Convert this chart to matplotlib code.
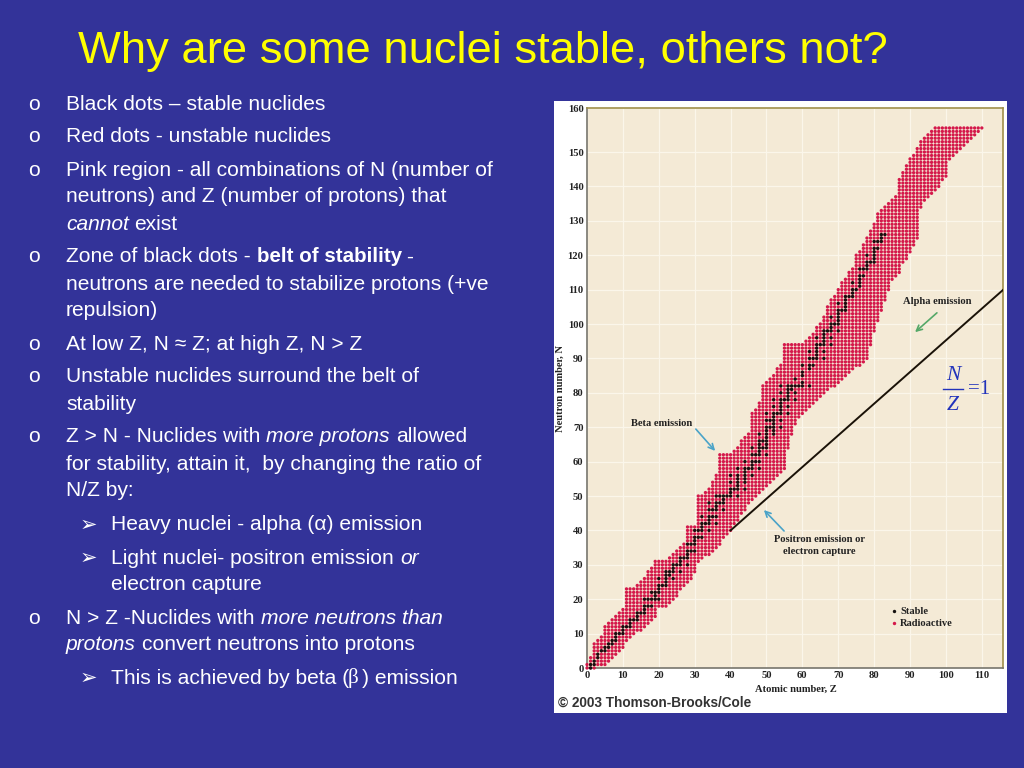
import numpy as np
import matplotlib
matplotlib.use("Agg")
import matplotlib.pyplot as plt
from matplotlib.patches import Rectangle

BG = '#333399'

# radioactive band: for every Z, lowest and highest N
band_low = [0,0,0,1,1,1,2,3,4,5,
            6,8,9,10,11,11,12,13,14,15,
            18,18,18,19,20,21,23,24,25,26,
            28,31,32,33,33,34,35,36,38,39,
            40,42,43,45,46,48,49,50,51,52,
            53,54,55,56,57,58,64,68,71,73,
            74,75,76,77,78,79,80,81,82,82,
            83,84,85,86,87,88,88,89,90,94,
            98,101,104,107,110,113,114,115,118,119,
            121,123,125,134,136,137,138,139,140,142,
            143,148,149,150,151,152,153,154,155,156,
            157]
band_high = [1,3,7,8,9,12,13,14,15,16,
             17,23,23,23,24,25,26,28,29,31,
             31,31,31,32,33,34,35,36,41,41,
             41,50,50,51,52,54,56,62,62,62,
             62,63,64,66,67,68,74,75,77,82,
             83,84,85,87,88,94,94,94,94,94,
             94,95,96,97,99,100,102,105,107,108,
             110,112,113,115,116,120,121,123,125,127,
             129,132,133,134,135,136,137,142,144,146,
             148,149,151,153,154,155,156,157,157,157,
             157,157,157,157,157,157,157,157,157,157,
             157]

# stable nuclides, N values by Z
stable = {1:[0,1], 2:[1,2], 3:[3,4], 4:[5], 5:[5,6], 6:[6,7], 7:[7,8], 8:[8,9,10], 9:[10],
          10:[10,11,12], 11:[12], 12:[12,13,14], 13:[14], 14:[14,15,16], 15:[16],
          16:[16,17,18,20], 17:[18,20], 18:[18,20,22], 19:[20,21,22], 20:[20,22,23,24,26],
          21:[24], 22:[24,25,26,27,28], 23:[27,28], 24:[26,28,29,30], 25:[30],
          26:[28,30,31,32], 27:[32], 28:[30,32,33,34,36], 29:[34,36], 30:[34,36,37,38,40],
          31:[38,40], 32:[38,40,41,42,44], 33:[42], 34:[40,42,43,44,46,48], 35:[44,46],
          36:[42,44,46,47,48,50], 37:[48,50], 38:[46,48,49,50], 39:[50],
          40:[50,51,52,54,56], 41:[52], 42:[50,52,53,54,55,56,58],
          44:[52,54,55,56,57,58,60], 45:[58], 46:[56,58,59,60,62,64], 47:[60,62],
          48:[58,60,62,63,64,65,66,68], 49:[64,66], 50:[62,64,65,66,67,68,69,70,72,74],
          51:[70,72], 52:[68,69,70,71,72,73,74,76,78], 53:[74],
          54:[70,72,74,75,76,77,78,80,82], 55:[78], 56:[74,76,78,79,80,81,82], 57:[81,82],
          58:[78,80,82,84], 59:[82], 60:[82,83,85,86,88], 62:[82,87,88,90,92], 63:[88,90],
          64:[90,91,92,93,94,96], 65:[94], 66:[90,92,94,95,96,97,98], 67:[98],
          68:[94,96,98,99,100,102], 69:[100], 70:[98,100,101,102,103,104,106], 71:[104],
          72:[104,105,106,107,108], 73:[108], 74:[108,109,110,112], 75:[110],
          76:[111,112,113,114,116], 77:[114,116], 78:[116,117,118,120], 79:[118],
          80:[118,119,120,121,122,124], 81:[122,124], 82:[124,125,126], 83:[126]}

line_z = [40, 116]
line_n = [40, 110]
xtick_vals = [0,10,20,30,40,50,60,70,80,90,100,110]
ytick_vals = [0,10,20,30,40,50,60,70,80,90,100,110,120,130,140,150,162.8]
ytick_labels = ['0','10','20','30','40','50','60','70','80','90','100','110','120','130','140','150','160']

# (x pixel, y pixel, text, style)
text_rows = [
    (66,104,'Black dots – stable nuclides','n'),
    (66,137,'Red dots - unstable nuclides','n'),
    (66,170,'Pink region - all combinations of N (number of','n'),
    (66,197,'neutrons) and Z (number of protons) that','n'),
    (66,224,'cannot','i'),
    (134,224,'exist','n'),
    (66,257,'Zone of black dots -','n'),
    (257,257,'belt of stability','b'),
    (406,257,'-','n'),
    (66,284,'neutrons are needed to stabilize protons (+ve','n'),
    (66,311,'repulsion)','n'),
    (66,344,'At low Z, N ≈ Z; at high Z, N > Z','n'),
    (66,377,'Unstable nuclides surround the belt of','n'),
    (66,404,'stability','n'),
    (66,437,'Z > N - Nuclides with','n'),
    (266,437,'more protons','i'),
    (396,437,'allowed','n'),
    (66,464,'for stability, attain it,  by changing the ratio of','n'),
    (66,491,'N/Z by:','n'),
    (111,525,'Heavy nuclei - alpha (α) emission','n'),
    (111,558,'Light nuclei- positron emission','n'),
    (400,558,'or','i'),
    (111,585,'electron capture','n'),
    (66,618,'N > Z -Nuclides with','n'),
    (261,618,'more neutrons than','i'),
    (66,645,'protons','i'),
    (142,645,'convert neutrons into protons','n'),
    (111,678,'This is achieved by beta (','n'),
    (362,678,') emission','n'),
]
bullet_rows = [104,137,170,257,344,377,437,618]
arrow_rows = [525,558,678]

fig = plt.figure(figsize=(10.24,7.68), dpi=100, facecolor=BG)

def px_rect(x0, y0, x1, y1):
    return [x0/1024, 1-y1/768, (x1-x0)/1024, (y1-y0)/768]

# white panel and text layer in pixel coords
page = fig.add_axes([0,0,1,1])
page.set_xlim(0,1024)
page.set_ylim(768,0)
page.axis('off')
page.add_patch(Rectangle((554,101), 453, 612, facecolor='white', edgecolor='none'))

ax = fig.add_axes(px_rect(587,108,1003,668), facecolor='#f4ead6')
ax.set_xlim(0,115.9)
ax.set_ylim(0,162.8)

red_z, red_n = [], []
for z, (lo, hi) in enumerate(zip(band_low, band_high)):
    for n in range(lo, hi+1):
        red_z.append(z)
        red_n.append(n)
# array of sizes so the dots are not rounded to whole pixels
dots = ax.scatter(red_z, red_n, s=np.full(len(red_z), 5.6), color='#d4184a', linewidths=0, clip_on=False, zorder=3)
dots.set_snap(False)

st_z = [z for z in stable for n in stable[z]]
st_n = [n for z in stable for n in stable[z]]
st_dots = ax.scatter(st_z, st_n, s=np.full(len(st_z), 5.5), color='#15110f', linewidths=0, clip_on=False, zorder=4)
st_dots.set_snap(False)
ax.plot(line_z, line_n, color='#1a1208', lw=1.4, zorder=3)

ax.set_xticks(xtick_vals)
ax.set_yticks(ytick_vals)
ax.set_yticklabels(ytick_labels)
ax.grid(color='#fbf6ea', lw=0.9)
ax.set_axisbelow(True)
ax.tick_params(length=0, pad=2.5)
for lab in ax.get_xticklabels() + ax.get_yticklabels():
    lab.set_family('Liberation Serif')
    lab.set_fontweight('bold')
    lab.set_fontsize(7.6)
    lab.set_color('#222222')
ax.spines['left'].set_color('#77756c')
ax.spines['bottom'].set_color('#77756c')
ax.spines['top'].set_color('#a08f4a')
ax.spines['right'].set_color('#a08f4a')
for s in ax.spines.values():
    s.set_linewidth(1.2)

# layer on top of the chart for labels and arrows
top = fig.add_axes([0,0,1,1])
top.set_xlim(0,1024)
top.set_ylim(768,0)
top.axis('off')
top.patch.set_alpha(0)

top.text(483,52,'Why are some nuclei stable, others not?', color='#ffff00', fontsize=32.7,
         family='Liberation Sans', ha='center', va='center')

STYLES = {'n':('normal','normal',15.1), 'i':('italic','normal',15.1), 'b':('normal','bold',14.8)}
for x, y, s, st in text_rows:
    top.text(x, y, s, color='white', fontsize=STYLES[st][2], family='Liberation Sans',
             style=STYLES[st][0], weight=STYLES[st][1], ha='left', va='center')
top.text(348, 678, 'β', color='white', fontsize=15.1, family='Liberation Serif', ha='left', va='center')
for y in bullet_rows:
    top.text(28, y, 'o', color='white', fontsize=15.1, family='Liberation Sans', ha='left', va='center')
for y in arrow_rows:
    top.text(80, y, '➢', color='white', fontsize=15, family='DejaVu Sans', ha='left', va='center')

def small(x, y, s, ha='left', **kw):
    top.text(x, y, s, color='#222222', fontsize=7.6, family='Liberation Serif', weight='bold',
             ha=ha, va='center', **kw)

small(631,423,'Beta emission')
small(903,302,'Alpha emission')
small(819,540,'Positron emission or', ha='center')
small(819,552,'electron capture', ha='center')
small(900,611,'Stable')
small(900,623,'Radioactive')
small(796,689,'Atomic number, Z', ha='center')
small(560,389,'Neutron number, N', ha='center', rotation=90)
top.scatter([894],[611], s=6, color='#15110f', linewidths=0)
top.scatter([894],[623], s=6, color='#d4184a', linewidths=0)

top.annotate('', xy=(717,453), xytext=(694,427),
             arrowprops=dict(arrowstyle='->', color='#4aa3c8', lw=1.2))
top.annotate('', xy=(762,508), xytext=(786,533),
             arrowprops=dict(arrowstyle='->', color='#4aa3c8', lw=1.2))
top.annotate('', xy=(913,334), xytext=(939,311),
             arrowprops=dict(arrowstyle='->', color='#55a868', lw=1.2))

blue = '#2233bb'
top.text(953,375,'N', color=blue, fontsize=15.5, family='Liberation Serif', style='italic', ha='center', va='center')
top.text(953,406,'Z', color=blue, fontsize=15.5, family='Liberation Serif', style='italic', ha='center', va='center')
top.plot([943,963],[389,389], color=blue, lw=1)
top.text(968,389,'=1', color=blue, fontsize=15, family='Liberation Serif', ha='left', va='center')

top.text(558,703,'© 2003 Thomson-Brooks/Cole', color='#333333', fontsize=9.8, family='Liberation Sans',
         weight='bold', ha='left', va='center')

fig.savefig('out.png', dpi=100, facecolor=BG)
